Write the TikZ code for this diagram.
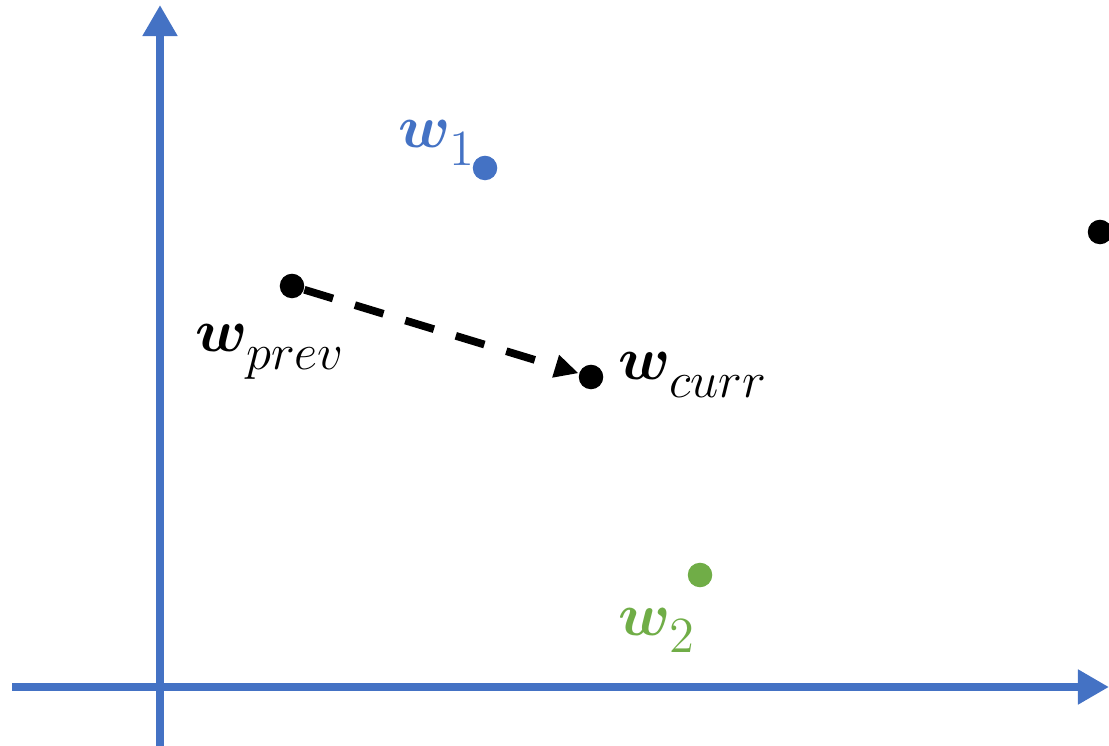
\documentclass[tikz,border=0pt]{standalone}
\usepackage{amsmath,bm}
\DeclareMathSizes{19}{19}{14.5}{10}
\usetikzlibrary{arrows.meta}
\definecolor{axisblue}{HTML}{4472C4}
\definecolor{wgreen}{HTML}{70AD47}
\newcommand{\lowsub}[1]{\raisebox{-2.5pt}{$\scriptstyle #1$}}
\tikzset{
  axis/.style={axisblue, line width=2.3pt, -{Triangle[width=0.33cm,length=0.31cm]}},
  dot/.style={circle, fill=#1, inner sep=0pt, minimum size=0.245cm},
  lbl/.style={anchor=base west, inner sep=0pt, font=\fontsize{19}{23}\selectfont},
  move/.style={line width=2.2pt, dash pattern=on 8.5pt off 6.5pt, -{Triangle[width=0.22cm,length=0.24cm]}}
}
\begin{document}
\begin{tikzpicture}[x=0.01cm,y=-0.01cm]
\useasboundingbox (0,0) rectangle (1109,746);
\coordinate (xs) at (12,687);
\coordinate (xe) at (1109,687);
\coordinate (ys) at (160,746);
\coordinate (ye) at (160,5);
\draw[axis] (xs) -- (xe);
\draw[axis] (ys) -- (ye);
\node[dot=axisblue] (w1) at (485,168) {};
\node[dot=wgreen] (w2) at (700,575) {};
\node[dot=black] (prev) at (292,286) {};
\node[dot=black] (curr) at (591,377) {};
\node[dot=black] (far) at (1100,232) {};
\draw[move] (prev) -- (curr);
\node[lbl, text=axisblue] (l1) at (398,148) {$\bm{w}_{\lowsub{1}}$};
\node[lbl, text=wgreen] (l2) at (618,635) {$\bm{w}_{\lowsub{2}}$};
\node[lbl] (lp) at (195,352) {$\bm{w}_{\lowsub{prev}}$};
\node[lbl] (lc) at (618,380) {$\bm{w}_{\lowsub{curr}}$};
\end{tikzpicture}
\end{document}
